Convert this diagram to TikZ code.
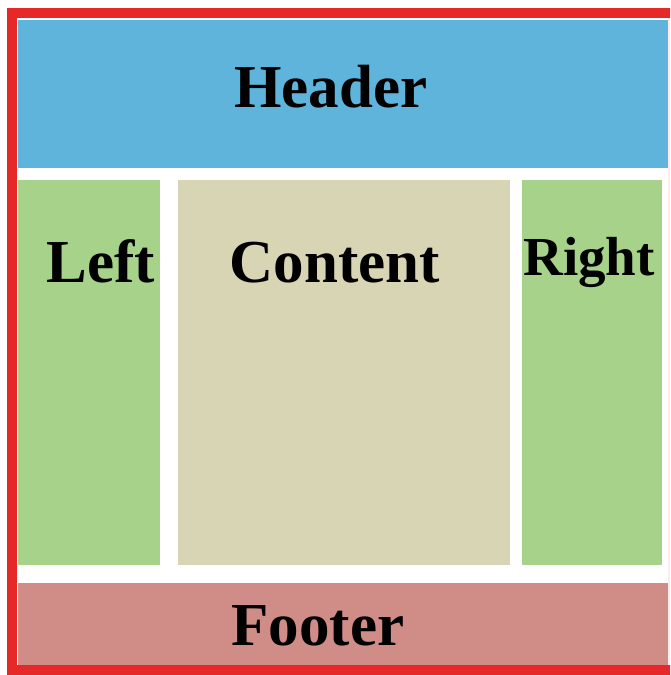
\documentclass[tikz,border=0pt]{standalone}
\usepackage{fontspec}
\setmainfont{Liberation Serif}
\usepackage{tikz}
\definecolor{hdblue}{RGB}{94,180,219}
\definecolor{sidegreen}{RGB}{166,210,138}
\definecolor{mainbeige}{RGB}{216,213,180}
\definecolor{ftred}{RGB}{208,140,135}
\definecolor{frame}{RGB}{230,40,40}
\newcommand {\zone}[6] {\fill[#2] (#3,#4) rectangle (#5,#6) coordinate (#1);}
\newcommand {\lbl}[5] {\node[anchor=base, font=\bfseries\fontsize{#4}{#4}\selectfont] (#1) at (#2,#3) {#5};}

\begin{document}
\begin{tikzpicture}[x=1pt, y=-1pt]
        \useasboundingbox (0,0) rectangle (670,675);
        \clip (0,0) rectangle (670,675);
        \fill[white] (0,0) rectangle (670,675);
        \fill[red!8] (668,18) rectangle (670,665);
        \zone{header}{hdblue}{18}{20}{668}{168}
        \zone{left}{sidegreen}{18}{180}{160}{565}
        \zone{content}{mainbeige}{178}{180}{510}{565}
        \zone{right}{sidegreen}{522}{180}{662}{565}
        \zone{footer}{ftred}{18}{583}{668}{665}
        \draw[line width=10pt, color=frame] (12,13) rectangle (690,670);
        \lbl{header text}{331}{107}{61}{Header}
        \lbl{left text}{101}{282}{61}{Left}
        \lbl{content text}{335}{282}{61}{Content}
        \lbl{right text}{589}{275}{55}{Right}
        \lbl{footer text}{318}{645}{61}{Footer}
    \end{tikzpicture}
\end{document}
